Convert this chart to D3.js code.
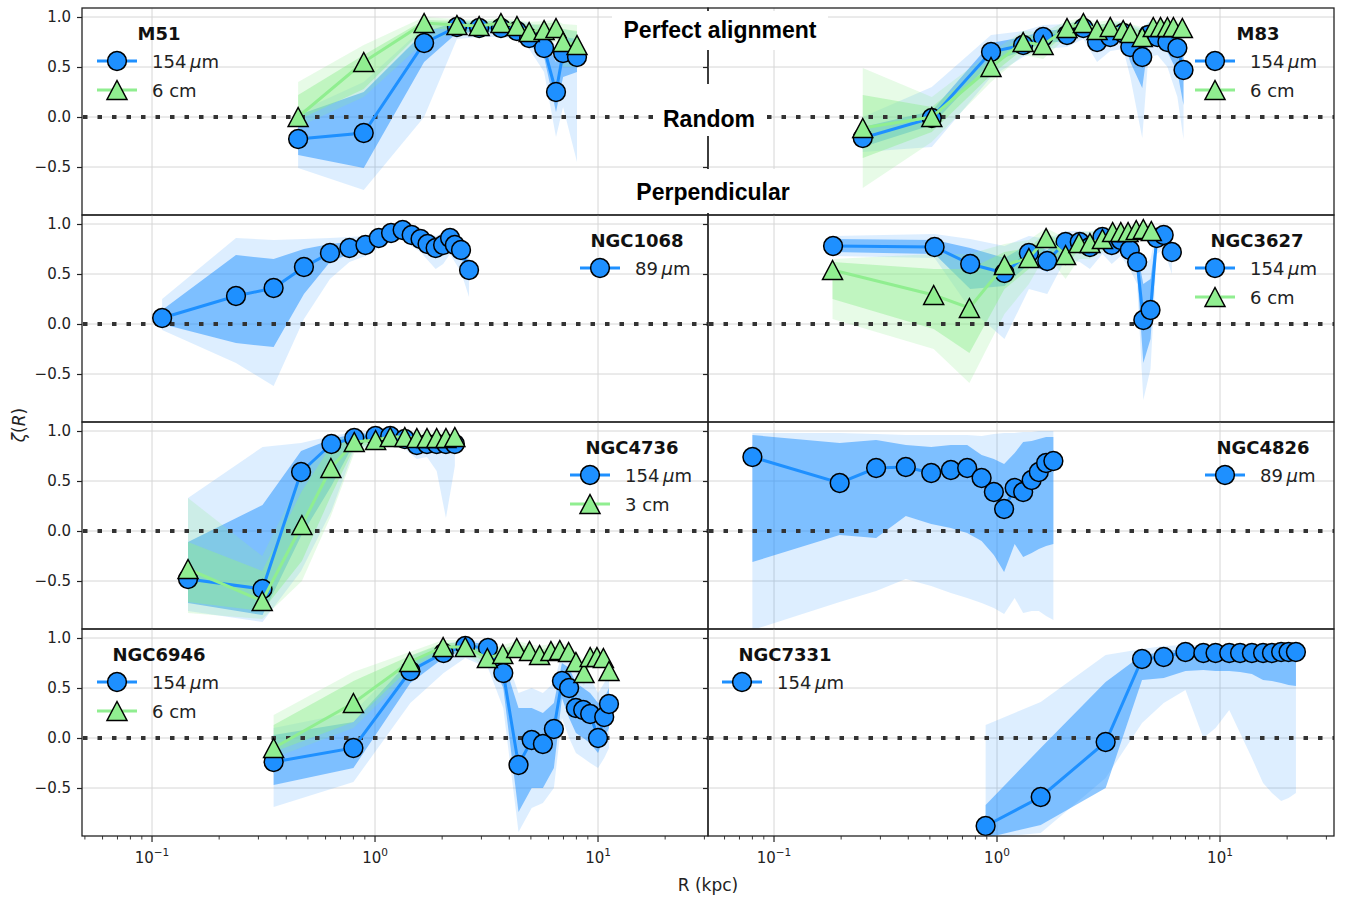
<!DOCTYPE html>
<html>
<head>
<meta charset="utf-8">
<script src="https://cdn.jsdelivr.net/npm/d3@7"></script>
<style>
  body { margin: 0; background: #fff; }
  svg { font-family: "DejaVu Sans", sans-serif; }
</style>
</head>
<body>
<svg id="fig" width="1347" height="899"></svg>
<script>
// each row: [R (kpc), zeta, inner lo, inner hi, outer lo, outer hi]
const m51_154 = [
  [0.452, -0.22, -0.38, 0.02, -0.51, 0.05], [0.89, -0.16, -0.51, 0.25, -0.73, 0.35],
  [1.66, 0.74, 0.55, 0.85, 0.0, 0.90], [2.33, 0.90, 0.84, 0.95, 0.78, 0.97],
  [2.93, 0.89, 0.85, 0.93, 0.80, 0.96], [3.67, 0.89, 0.85, 0.93, 0.80, 0.96],
  [4.33, 0.86, 0.80, 0.92, 0.78, 0.96], [4.91, 0.79, 0.72, 0.87, 0.68, 0.94],
  [5.73, 0.69, 0.60, 0.80, 0.45, 0.90], [6.48, 0.25, 0.05, 0.55, -0.20, 0.70],
  [6.97, 0.64, 0.40, 0.80, 0.10, 0.88], [8.05, 0.60, 0.45, 0.78, -0.45, 0.85]
];
const m51_6cm = [
  [0.452, 0.00, -0.03, 0.22, -0.10, 0.35], [0.89, 0.55, 0.28, 0.62, 0.20, 0.72],
  [1.66, 0.94, 0.88, 0.97, 0.75, 1.0], [2.33, 0.92, 0.88, 0.96, 0.84, 0.98],
  [2.93, 0.91, 0.88, 0.95, 0.84, 0.97], [3.67, 0.94, 0.90, 0.97, 0.86, 0.99],
  [4.33, 0.91, 0.86, 0.95, 0.82, 0.97], [4.91, 0.85, 0.80, 0.92, 0.75, 0.95],
  [5.73, 0.87, 0.80, 0.93, 0.75, 0.96], [6.48, 0.89, 0.82, 0.95, 0.75, 0.97],
  [6.97, 0.75, 0.62, 0.88, 0.50, 0.93], [8.05, 0.72, 0.60, 0.86, 0.50, 0.92]
];
const m83_154 = [
  [0.25, -0.21, -0.30, -0.10, -0.35, 0.0], [0.51, -0.01, -0.08, 0.06, -0.30, 0.30],
  [0.94, 0.65, 0.55, 0.74, 0.40, 0.82], [1.31, 0.72, 0.66, 0.80, 0.60, 0.86],
  [1.61, 0.80, 0.74, 0.86, 0.68, 0.92], [2.06, 0.82, 0.76, 0.88, 0.70, 0.93],
  [2.44, 0.89, 0.84, 0.94, 0.78, 0.98], [2.81, 0.75, 0.68, 0.84, 0.55, 0.92],
  [3.22, 0.80, 0.74, 0.88, 0.66, 0.94], [3.68, 0.84, 0.78, 0.90, 0.68, 0.95],
  [3.96, 0.70, 0.55, 0.82, 0.40, 0.92], [4.48, 0.60, 0.29, 0.78, -0.21, 0.88],
  [4.77, 0.82, 0.74, 0.90, 0.60, 0.95], [5.24, 0.80, 0.72, 0.88, 0.62, 0.93],
  [5.81, 0.75, 0.65, 0.84, 0.50, 0.92], [6.44, 0.69, 0.45, 0.82, 0.20, 0.90],
  [6.86, 0.47, 0.12, 0.70, -0.22, 0.85]
];
const m83_6cm = [
  [0.25, -0.11, -0.41, 0.22, -0.71, 0.49], [0.51, 0.00, -0.15, 0.10, -0.25, 0.20],
  [0.94, 0.50, 0.42, 0.58, 0.35, 0.65], [1.31, 0.75, 0.68, 0.82, 0.62, 0.86],
  [1.61, 0.72, 0.64, 0.80, 0.58, 0.85], [2.06, 0.89, 0.84, 0.93, 0.80, 0.96],
  [2.44, 0.94, 0.90, 0.97, 0.86, 0.99], [2.81, 0.87, 0.82, 0.92, 0.78, 0.95],
  [3.22, 0.90, 0.85, 0.94, 0.82, 0.97], [3.68, 0.87, 0.82, 0.92, 0.78, 0.95],
  [3.96, 0.84, 0.78, 0.90, 0.74, 0.93], [4.48, 0.80, 0.74, 0.86, 0.68, 0.90],
  [5.02, 0.90, 0.85, 0.94, 0.80, 0.97], [5.41, 0.90, 0.85, 0.94, 0.80, 0.97],
  [5.81, 0.90, 0.85, 0.94, 0.80, 0.97], [6.18, 0.90, 0.85, 0.94, 0.80, 0.97],
  [6.78, 0.89, 0.84, 0.93, 0.80, 0.96]
];
const ngc1068_89 = [
  [0.111, 0.06, 0.0, 0.14, -0.06, 0.25], [0.238, 0.28, -0.19, 0.69, -0.39, 0.86],
  [0.351, 0.36, -0.23, 0.65, -0.62, 0.84], [0.48, 0.57, 0.30, 0.75, 0.05, 0.85],
  [0.628, 0.71, 0.62, 0.80, 0.45, 0.86], [0.768, 0.76, 0.70, 0.82, 0.62, 0.87],
  [0.906, 0.79, 0.74, 0.84, 0.68, 0.88], [1.04, 0.86, 0.81, 0.90, 0.76, 0.94],
  [1.18, 0.91, 0.87, 0.95, 0.82, 0.98], [1.33, 0.94, 0.90, 0.97, 0.86, 1.0],
  [1.46, 0.89, 0.84, 0.93, 0.78, 0.96], [1.60, 0.85, 0.79, 0.90, 0.72, 0.94],
  [1.72, 0.80, 0.73, 0.86, 0.64, 0.91], [1.87, 0.76, 0.68, 0.83, 0.55, 0.88],
  [2.02, 0.79, 0.72, 0.86, 0.60, 0.91], [2.17, 0.86, 0.80, 0.91, 0.70, 0.95],
  [2.28, 0.79, 0.72, 0.85, 0.62, 0.90], [2.43, 0.74, 0.66, 0.81, 0.52, 0.87],
  [2.64, 0.54, 0.45, 0.62, 0.27, 0.72]
];
const ngc3627_154 = [
  [0.184, 0.78, 0.72, 0.85, 0.68, 0.88], [0.525, 0.77, 0.70, 0.84, 0.66, 0.90],
  [0.758, 0.60, 0.35, 0.76, 0.15, 0.85], [1.08, 0.51, 0.38, 0.66, -0.15, 0.78],
  [1.39, 0.71, 0.60, 0.80, 0.35, 0.88], [1.68, 0.63, 0.52, 0.74, 0.30, 0.85],
  [2.03, 0.82, 0.75, 0.88, 0.65, 0.93], [2.35, 0.82, 0.76, 0.88, 0.62, 0.93],
  [2.61, 0.77, 0.70, 0.84, 0.55, 0.92], [2.97, 0.87, 0.82, 0.92, 0.70, 0.96],
  [3.27, 0.79, 0.72, 0.86, 0.60, 0.93], [3.59, 0.84, 0.78, 0.90, 0.68, 0.95],
  [3.94, 0.74, 0.66, 0.82, 0.55, 0.90], [4.25, 0.62, 0.52, 0.72, 0.40, 0.82],
  [4.53, 0.04, -0.39, 0.40, -0.76, 0.60], [4.88, 0.14, -0.15, 0.45, -0.45, 0.65],
  [5.20, 0.86, 0.78, 0.92, 0.70, 0.96], [5.59, 0.89, 0.83, 0.95, 0.75, 0.98],
  [6.08, 0.72, 0.62, 0.80, 0.50, 0.88]
];
const ngc3627_6cm = [
  [0.183, 0.54, 0.25, 0.62, 0.05, 0.65], [0.520, 0.29, -0.05, 0.55, -0.25, 0.70],
  [0.752, 0.16, -0.29, 0.55, -0.59, 0.70], [1.08, 0.59, 0.35, 0.72, 0.10, 0.80],
  [1.39, 0.66, 0.55, 0.76, 0.40, 0.84], [1.66, 0.86, 0.78, 0.92, 0.70, 0.96],
  [2.03, 0.69, 0.58, 0.79, 0.45, 0.86], [2.33, 0.81, 0.74, 0.88, 0.65, 0.92],
  [2.61, 0.81, 0.74, 0.88, 0.65, 0.93], [2.97, 0.85, 0.79, 0.91, 0.72, 0.94],
  [3.30, 0.92, 0.87, 0.96, 0.80, 0.99], [3.59, 0.92, 0.87, 0.96, 0.80, 0.99],
  [3.87, 0.92, 0.87, 0.96, 0.80, 0.99], [4.21, 0.94, 0.90, 0.97, 0.85, 1.0],
  [4.53, 0.95, 0.91, 0.98, 0.85, 1.01], [4.92, 0.93, 0.88, 0.97, 0.82, 1.0]
];
const ngc4736_154 = [
  [0.145, -0.48, -0.72, -0.11, -0.80, 0.33], [0.313, -0.58, -0.84, 0.26, -0.91, 0.84],
  [0.466, 0.59, -0.05, 0.80, -0.40, 0.88], [0.637, 0.87, 0.45, 0.92, 0.20, 0.95],
  [0.807, 0.93, 0.88, 0.97, 0.82, 0.99], [1.006, 0.95, 0.91, 0.98, 0.86, 1.0],
  [1.17, 0.95, 0.91, 0.98, 0.86, 1.0], [1.36, 0.92, 0.88, 0.96, 0.82, 0.99],
  [1.54, 0.86, 0.80, 0.91, 0.72, 0.95], [1.71, 0.87, 0.82, 0.92, 0.74, 0.96],
  [1.89, 0.87, 0.80, 0.92, 0.60, 0.96], [2.08, 0.87, 0.78, 0.92, 0.13, 0.96],
  [2.28, 0.87, 0.80, 0.92, 0.65, 0.96]
];
const ngc4736_3cm = [
  [0.145, -0.38, -0.71, -0.11, -0.82, 0.33], [0.312, -0.70, -0.80, -0.40, -0.88, -0.25],
  [0.47, 0.06, -0.30, 0.40, -0.50, 0.55], [0.634, 0.63, 0.35, 0.85, 0.15, 0.90],
  [0.807, 0.89, 0.84, 0.93, 0.78, 0.96], [1.006, 0.91, 0.87, 0.95, 0.82, 0.98],
  [1.17, 0.94, 0.90, 0.97, 0.86, 0.99], [1.36, 0.94, 0.90, 0.97, 0.86, 0.99],
  [1.54, 0.93, 0.89, 0.96, 0.85, 0.99], [1.71, 0.93, 0.89, 0.96, 0.85, 0.99],
  [1.89, 0.93, 0.89, 0.96, 0.85, 0.99], [2.08, 0.93, 0.89, 0.96, 0.85, 0.99],
  [2.28, 0.94, 0.90, 0.97, 0.86, 0.99]
];
const ngc4826_89 = [
  [0.080, 0.74, -0.31, 0.96, -0.99, 0.98], [0.197, 0.48, -0.04, 0.88, -0.71, 0.98],
  [0.287, 0.63, -0.07, 0.91, -0.60, 0.97], [0.390, 0.64, 0.15, 0.86, -0.48, 0.96],
  [0.507, 0.58, 0.07, 0.84, -0.55, 0.96], [0.621, 0.61, 0.03, 0.86, -0.62, 0.96],
  [0.735, 0.63, -0.02, 0.86, -0.67, 0.96], [0.853, 0.53, -0.10, 0.76, -0.72, 0.95],
  [0.968, 0.39, -0.24, 0.72, -0.77, 0.97], [1.076, 0.22, -0.41, 0.67, -0.83, 0.98],
  [1.20, 0.43, -0.13, 0.78, -0.67, 0.98], [1.31, 0.39, -0.26, 0.89, -0.82, 0.99],
  [1.43, 0.51, -0.22, 0.90, -0.80, 0.99], [1.54, 0.59, -0.18, 0.92, -0.80, 1.0],
  [1.66, 0.68, -0.15, 0.94, -0.85, 1.0], [1.79, 0.70, -0.13, 0.94, -0.89, 1.0]
];
const ngc6946_154 = [
  [0.351, -0.24, -0.47, 0.03, -0.69, 0.10], [0.80, -0.10, -0.30, 0.16, -0.44, 0.26],
  [1.44, 0.67, 0.55, 0.78, 0.35, 0.82], [2.03, 0.85, 0.80, 0.90, 0.65, 0.94],
  [2.54, 0.92, 0.88, 0.96, 0.80, 0.98], [3.21, 0.90, 0.84, 0.94, 0.70, 0.97],
  [3.76, 0.65, 0.50, 0.78, 0.30, 0.88], [4.40, -0.27, -0.74, 0.30, -0.94, 0.45],
  [5.04, -0.02, -0.50, 0.30, -0.70, 0.50], [5.66, -0.06, -0.50, 0.25, -0.65, 0.45],
  [6.34, 0.09, -0.30, 0.35, -0.50, 0.55], [6.89, 0.57, 0.40, 0.75, 0.20, 0.85],
  [7.42, 0.50, 0.20, 0.70, 0.0, 0.80], [7.96, 0.30, 0.05, 0.55, -0.15, 0.70],
  [8.58, 0.28, 0.0, 0.50, -0.20, 0.65], [9.22, 0.24, -0.05, 0.45, -0.25, 0.60],
  [10.0, 0.0, -0.15, 0.35, -0.30, 0.45], [10.66, 0.21, 0.0, 0.40, -0.20, 0.55],
  [11.2, 0.34, 0.10, 0.50, -0.10, 0.65]
];
const ngc6946_6cm = [
  [0.351, -0.10, -0.14, 0.13, -0.20, 0.23], [0.80, 0.35, 0.16, 0.57, 0.10, 0.66],
  [1.43, 0.76, 0.70, 0.82, 0.65, 0.86], [2.02, 0.91, 0.87, 0.95, 0.84, 0.98],
  [2.54, 0.91, 0.87, 0.95, 0.84, 0.98], [3.19, 0.80, 0.75, 0.85, 0.70, 0.89],
  [3.74, 0.84, 0.79, 0.89, 0.74, 0.93], [4.32, 0.90, 0.86, 0.94, 0.82, 0.97],
  [4.93, 0.87, 0.83, 0.91, 0.79, 0.94], [5.47, 0.83, 0.78, 0.88, 0.74, 0.92],
  [6.15, 0.87, 0.83, 0.91, 0.79, 0.94], [6.74, 0.88, 0.84, 0.92, 0.80, 0.95],
  [7.38, 0.86, 0.82, 0.90, 0.78, 0.93], [7.96, 0.76, 0.70, 0.82, 0.65, 0.86],
  [8.65, 0.65, 0.58, 0.72, 0.52, 0.78], [9.22, 0.81, 0.76, 0.86, 0.72, 0.90],
  [9.89, 0.81, 0.76, 0.86, 0.72, 0.90], [10.57, 0.80, 0.75, 0.85, 0.70, 0.89],
  [11.2, 0.67, 0.60, 0.74, 0.55, 0.80]
];
const ngc7331_154 = [
  [0.889, -0.88, -1.0, -0.67, -1.0, 0.13], [1.57, -0.59, -0.87, -0.10, -0.95, 0.36],
  [3.07, -0.04, -0.50, 0.56, -0.40, 0.83], [4.47, 0.79, 0.58, 0.83, 0.15, 0.89],
  [5.59, 0.81, 0.60, 0.86, 0.35, 0.92], [7.0, 0.86, 0.67, 0.90, 0.48, 0.93],
  [8.42, 0.85, 0.68, 0.90, 0.0, 0.93], [9.55, 0.85, 0.67, 0.90, 0.10, 0.93],
  [11.0, 0.85, 0.67, 0.90, 0.28, 0.93], [12.3, 0.85, 0.66, 0.90, 0.05, 0.93],
  [13.9, 0.85, 0.64, 0.90, -0.20, 0.93], [15.6, 0.85, 0.58, 0.90, -0.45, 0.93],
  [17.1, 0.85, 0.57, 0.90, -0.55, 0.93], [18.8, 0.86, 0.55, 0.91, -0.63, 0.93],
  [20.3, 0.86, 0.53, 0.91, -0.60, 0.93], [21.9, 0.86, 0.52, 0.91, -0.55, 0.93]
];

const yTicks = [-0.5, 0, 0.5, 1.0];
const xMajor = [0.1, 1, 10];
const zoneLabels = ["Perfect alignment", "Random", "Perpendicular"];

// panel layout: col/row index, legend handle x, title centre x (relative to panel)
const panels = [
  { name: "M51", col: 0, row: 0, lx: 15, tx: 77, series: [[m51_154, "fir", "154"], [m51_6cm, "radio", "6 cm"]] },
  { name: "M83", col: 1, row: 0, lx: 487, tx: 550, series: [[m83_154, "fir", "154"], [m83_6cm, "radio", "6 cm"]] },
  { name: "NGC1068", col: 0, row: 1, lx: 498, tx: 555, series: [[ngc1068_89, "fir", "89"]] },
  { name: "NGC3627", col: 1, row: 1, lx: 487, tx: 549, series: [[ngc3627_154, "fir", "154"], [ngc3627_6cm, "radio", "6 cm"]] },
  { name: "NGC4736", col: 0, row: 2, lx: 488, tx: 550, series: [[ngc4736_154, "fir", "154"], [ngc4736_3cm, "radio", "3 cm"]] },
  { name: "NGC4826", col: 1, row: 2, lx: 497, tx: 555, series: [[ngc4826_89, "fir", "89"]] },
  { name: "NGC6946", col: 0, row: 3, lx: 15, tx: 77, series: [[ngc6946_154, "fir", "154"], [ngc6946_6cm, "radio", "6 cm"]] },
  { name: "NGC7331", col: 1, row: 3, lx: 14, tx: 77, series: [[ngc7331_154, "fir", "154"]] }
];

const colX = [82, 708], rowY = [8, 215, 422, 629];
const pw = 626, ph = 207;
const BLUE = "#1e90ff", GREEN = "#90ee90";
const style = {
  fir:   { color: BLUE,  outer: 0.15, inner: 0.5 },
  radio: { color: GREEN, outer: 0.22, inner: 0.45 }
};

// one log scale per column (log10 of left edge, 223 px per decade)
const xs = [-1.314, -1.296].map(lo =>
  d3.scaleLog().domain([Math.pow(10, lo), Math.pow(10, lo + pw / 223)]).range([0, pw]));
const y = d3.scaleLinear().domain([-0.98, 1.09]).range([ph, 0]);

const svg = d3.select("#fig");
const defs = svg.append("defs");
defs.append("clipPath").attr("id", "clip")
  .append("rect").attr("width", pw).attr("height", ph);

const triPath = "M0,-9.5L10,9.5L-10,9.5Z";
function marker(g, kind, cx, cy) {
  if (kind === "fir") {
    g.append("circle").attr("cx", cx).attr("cy", cy).attr("r", 9.4)
      .attr("fill", BLUE).attr("stroke", "#000").attr("stroke-width", 1.5);
  } else {
    g.append("path").attr("d", triPath)
      .attr("transform", "translate(" + cx + "," + cy + ")")
      .attr("fill", GREEN).attr("stroke", "#000").attr("stroke-width", 1.5);
  }
}

panels.forEach(p => {
  const x = xs[p.col];
  const line = d3.line().x(d => x(d[0])).y(d => y(d[1]));
  const band = (lo, hi) => d3.area().x(d => x(d[0])).y0(d => y(d[lo])).y1(d => y(d[hi]));
  const g = svg.append("g").attr("transform", "translate(" + colX[p.col] + "," + rowY[p.row] + ")");

  // grid
  const grid = g.append("g").attr("stroke", "#d6d6d6").attr("stroke-width", 1);
  xMajor.forEach(v => grid.append("line").attr("x1", x(v)).attr("x2", x(v)).attr("y1", 0).attr("y2", ph));
  yTicks.forEach(v => grid.append("line").attr("x1", 0).attr("x2", pw).attr("y1", y(v)).attr("y2", y(v)));

  // bands
  const bands = g.append("g").attr("clip-path", "url(#clip)");
  p.series.forEach(([data, kind]) => {
    const s = style[kind];
    bands.append("path").datum(data).attr("d", band(4, 5)).attr("fill", s.color).attr("fill-opacity", s.outer);
    bands.append("path").datum(data).attr("d", band(2, 3)).attr("fill", s.color).attr("fill-opacity", s.inner);
  });

  // random line
  g.append("line").attr("x1", 1).attr("x2", pw).attr("y1", y(0)).attr("y2", y(0))
    .attr("stroke", "#333").attr("stroke-width", 4).attr("stroke-dasharray", "4.5,10");

  // lines and markers
  p.series.forEach(([data, kind]) => {
    const s = style[kind];
    g.append("path").datum(data).attr("d", line).attr("fill", "none")
      .attr("stroke", s.color).attr("stroke-width", 3);
    const mg = g.append("g");
    data.forEach(d => marker(mg, kind, x(d[0]), y(d[1])));
  });

  // y axis ticks
  const yAxis = d3.axisLeft(y).tickValues(yTicks).tickSize(5).tickPadding(6)
    .tickFormat(p.col === 0 ? (d => d3.format(".1f")(d).replace("-", "\u2212")) : "");
  const ya = g.append("g").call(yAxis);
  ya.select(".domain").remove();
  ya.selectAll("line").attr("stroke", "#222").attr("stroke-width", 1.2);
  ya.selectAll("text").attr("font-size", 15).attr("fill", "#222")
    .attr("font-family", "DejaVu Sans, sans-serif");

  // x axis on bottom row
  if (p.row === 3) {
    const xa = g.append("g").attr("transform", "translate(0," + ph + ")");
    x.ticks().forEach(t => {
      const major = xMajor.includes(t);
      xa.append("line").attr("x1", x(t)).attr("x2", x(t)).attr("y1", 0).attr("y2", major ? 6 : 3.5)
        .attr("stroke", "#222").attr("stroke-width", major ? 1.2 : 0.9);
    });
    xMajor.forEach(t => {
      const e = Math.round(Math.log10(t));
      const tx = xa.append("text").attr("x", x(t)).attr("y", 27).attr("text-anchor", "middle")
        .attr("font-size", 15).attr("fill", "#222");
      tx.append("tspan").text("10");
      tx.append("tspan").attr("dy", -7).attr("font-size", 10.5).text(String(e).replace("-", "\u2212"));
    });
  }

  // frame
  g.append("rect").attr("width", pw).attr("height", ph).attr("fill", "none")
    .attr("stroke", "#222").attr("stroke-width", 1.3);

  // legend
  const lg = g.append("g");
  lg.append("text").attr("x", p.tx).attr("y", 32).attr("text-anchor", "middle")
    .attr("font-size", 18).attr("font-weight", "bold").attr("fill", "#111").text(p.name);
  p.series.forEach(([data, kind, label], i) => {
    const cy = 53 + i * 29;
    lg.append("line").attr("x1", p.lx).attr("x2", p.lx + 40).attr("y1", cy).attr("y2", cy)
      .attr("stroke", style[kind].color).attr("stroke-width", 3);
    marker(lg, kind, p.lx + 20, cy);
    const t = lg.append("text").attr("x", p.lx + 55).attr("y", cy + 6.5)
      .attr("font-size", 18).attr("fill", "#222");
    if (kind === "fir") {
      t.append("tspan").text(label + "\u2009");
      t.append("tspan").attr("font-style", "italic").text("\u03bc");
      t.append("tspan").text("m");
    } else {
      t.text(label);
    }
  });
});

// zone labels with white boxes
const boxes = [
  { x: 612, y: 11, w: 216, h: 39, cx: 720, cy: 30 },
  { x: 653, y: 84, w: 114, h: 52, cx: 709, cy: 119 },
  { x: 624, y: 169, w: 178, h: 44, cx: 713, cy: 192 }
];
boxes.forEach((b, i) => {
  svg.append("rect").attr("x", b.x).attr("y", b.y).attr("width", b.w).attr("height", b.h).attr("fill", "#fff");
  svg.append("text").attr("x", b.cx).attr("y", b.cy + 8).attr("text-anchor", "middle")
    .attr("font-family", "Liberation Sans, Arial, sans-serif").attr("font-weight", "bold")
    .attr("font-size", 23).attr("fill", "#000").text(zoneLabels[i]);
});

// axis titles
svg.append("text").attr("x", 708).attr("y", 891).attr("text-anchor", "middle")
  .attr("font-size", 17).attr("fill", "#222").text("R (kpc)");
const yl = svg.append("text").attr("transform", "translate(25,425) rotate(-90)")
  .attr("text-anchor", "middle").attr("font-size", 17).attr("fill", "#222");
yl.append("tspan").attr("font-style", "italic").text("\u03b6");
yl.append("tspan").text("(");
yl.append("tspan").attr("font-style", "italic").text("R");
yl.append("tspan").text(")");
</script>
</body>
</html>
